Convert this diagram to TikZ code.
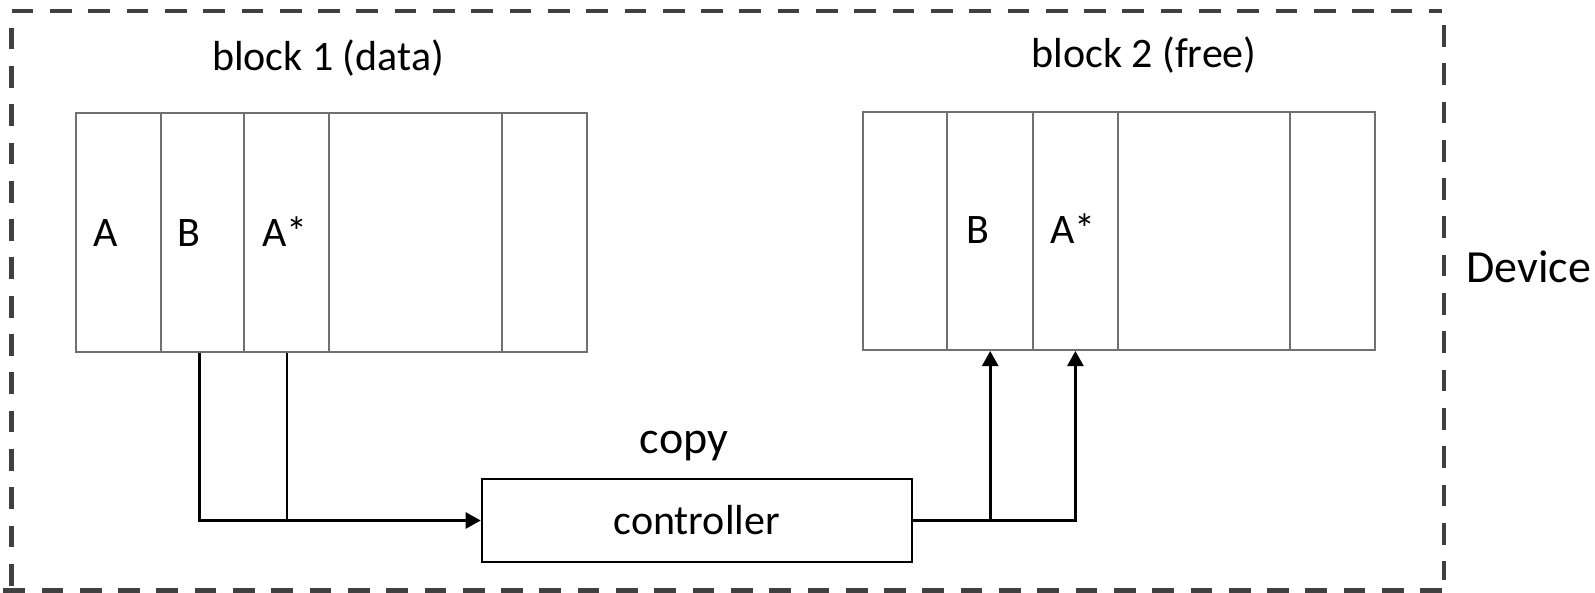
\documentclass[tikz,border=0pt]{standalone}
\usepackage{fontspec}
\setmainfont{Carlito}
\usetikzlibrary{arrows.meta}
\definecolor{cellgray}{RGB}{112,112,114}
\definecolor{framegray}{RGB}{64,64,64}
\tikzset{
  cell/.style={draw=cellgray, line width=1pt, inner sep=0pt, anchor=north west},
  row1/.style={cell, minimum height=119.5pt},
  row2/.style={cell, minimum height=119.15pt},
  label/.style={inner sep=0pt, anchor=base, font=\fontsize{21pt}{25pt}\selectfont},
  biglabel/.style={inner sep=0pt, anchor=base, font=\fontsize{23pt}{27pt}\selectfont},
  conn/.style={draw=black, line width=1.3pt},
  tip/.style={-{Triangle[length=7.5pt,width=8pt]}},
  frame/.style={draw=framegray, line width=2.3pt, dash pattern=on 10.85pt off 8.3pt},
  ctrlbox/.style={draw=black, line width=1pt, inner sep=0pt,
    minimum width=215pt, minimum height=41.5pt,
    font=\fontsize{21pt}{25pt}\selectfont}
}
\begin{document}
\begin{tikzpicture}[x=0.5pt, y=-0.5pt]
\useasboundingbox (0,0) rectangle (1595,593);

% device frame
\draw[frame] (11.7,11) -- (1442,11);
\draw[frame] (11.5,27.7) -- (11.5,593);
\draw[frame] (1444,25) -- (1444,580);
\draw[frame] (1442,590.5) -- (0,590.5);
\node[biglabel] (device) at (1528.5,283) {Device};

% block 1 cells
\node[row1, minimum width=42.7pt] (c1a) at (74.6,112) {};
\node[row1, minimum width=41.7pt] (c1b) at (160,112) {};
\node[row1, minimum width=42.5pt] (c1s) at (243.4,112) {};
\node[row1, minimum width=86.1pt] (c1d) at (328.4,112) {};
\node[row1, minimum width=42.45pt] (c1e) at (500.6,112) {};
\node[label] (t1) at (328,71) {block 1 (data)};
\node[label] (t1a) at (106,247) {A};
\node[label] (t1b) at (189.4,247) {B};
\node[label] (t1s) at (284.7,247) {A*};

% block 2 cells
\node[row2, minimum width=42.35pt] (c2a) at (861.7,110.7) {};
\node[row2, minimum width=42.8pt] (c2b) at (946.4,110.7) {};
\node[row2, minimum width=42.4pt] (c2s) at (1032,110.7) {};
\node[row2, minimum width=86.1pt] (c2d) at (1116.8,110.7) {};
\node[row2, minimum width=42.5pt] (c2e) at (1289,110.7) {};
\node[label] (t2) at (1144,68) {block 2 (free)};
\node[label] (t2b) at (978,244) {B};
\node[label] (t2s) at (1073,244) {A*};

% controller
\node[ctrlbox] (ctrl) at (696.7,520.5) {controller};
\node[biglabel] (copy) at (684,453) {copy};

% connectors
\draw[conn, tip] ([xshift=-1.6pt]c1b.south) |- (ctrl.west);
\draw[conn] (c1s.south) -- (c1s.south |- ctrl.west);
\draw[conn, tip] (ctrl.east) -| (c2b.south);
\draw[conn, tip] (ctrl.east) -| (c2s.south);
\end{tikzpicture}
\end{document}
